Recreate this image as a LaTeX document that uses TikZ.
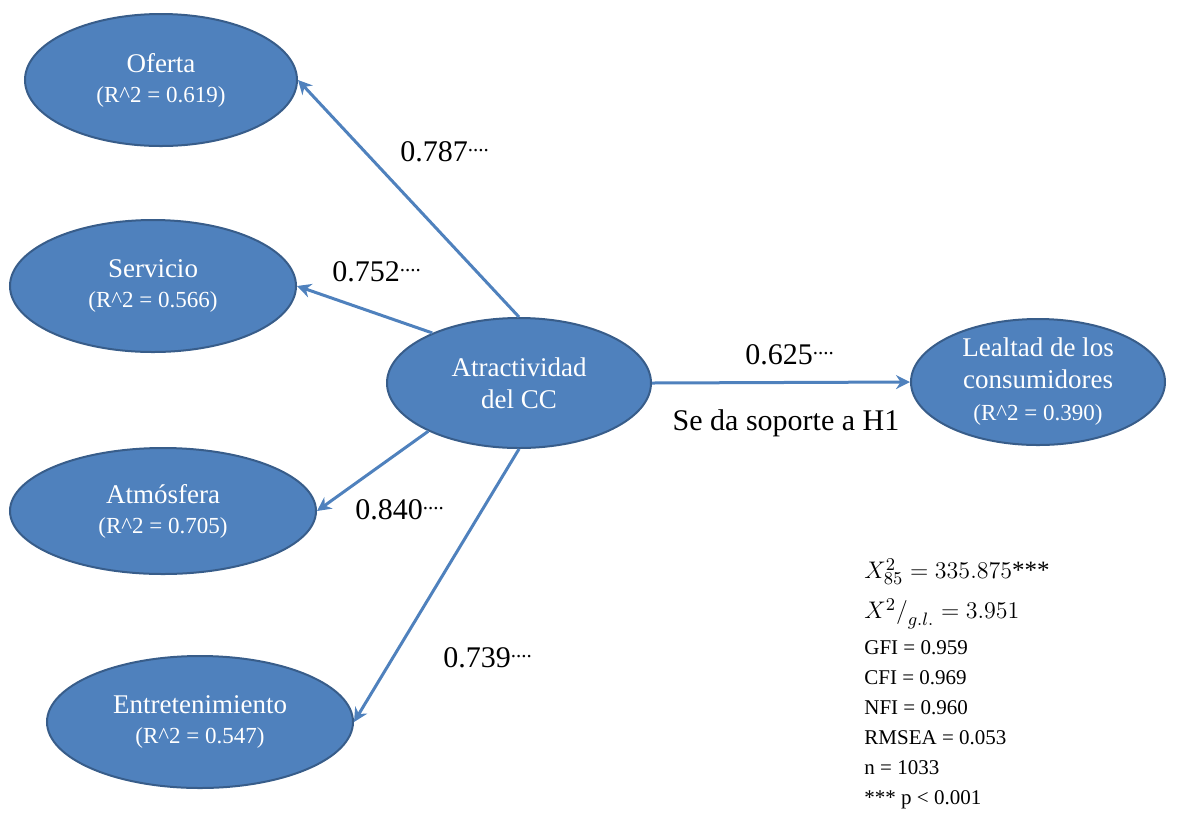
\documentclass[tikz,border=0pt]{standalone}
\usepackage{fontspec}
\setmainfont{Liberation Serif}
\usetikzlibrary{arrows.meta, shapes.geometric}
\definecolor{semBlue}{HTML}{4F81BD}
\definecolor{semEdge}{HTML}{385D8A}

\begin{document}
\begin{tikzpicture}[x=0.5pt, y=-0.5pt,
    lat/.style={ellipse, draw=semEdge, fill=semBlue, line width=1pt, text=white,
      align=center, inner sep=0pt, font=\fontsize{13.5}{16}\selectfont},
    arr/.style={-{Stealth[length=7pt, width=7pt]}, semBlue, line width=1.5pt},
    coef/.style={font=\fontsize{15}{18}\selectfont}]
    \useasboundingbox (0,0) rectangle (1190,816);
    % factores
    \node[lat, minimum width=136pt, minimum height=66pt] (of) at (161,80)
      {Oferta\\[-1pt]{\fontsize{11.5}{15}\selectfont(R\textasciicircum2 = 0.619)}};
    \node[lat, minimum width=143pt, minimum height=66pt] (sv) at (153,286)
      {Servicio\\[-1pt]{\fontsize{11.5}{15}\selectfont(R\textasciicircum2 = 0.566)}};
    \node[lat, minimum width=153pt, minimum height=63pt] (at) at (163,511)
      {Atmósfera\\[-1pt]{\fontsize{11.5}{15}\selectfont(R\textasciicircum2 = 0.705)}};
    \node[lat, minimum width=153pt, minimum height=66pt] (en) at (200,722)
      {Entretenimiento\\[-1pt]{\fontsize{11.5}{15}\selectfont(R\textasciicircum2 = 0.547)}};
    % constructo central y resultado
    \node[lat, minimum width=132pt, minimum height=65pt] (cc) at (519,383)
      {Atractividad\\del CC};
    \node[lat, minimum width=127pt, minimum height=63pt] (le) at (1038,382)
      {Lealtad de los\\consumidores\\{\fontsize{11.5}{15}\selectfont(R\textasciicircum2 = 0.390)}};
    \foreach \a/\b in {cc.north/of.east, cc.150/sv.east, cc.208/at.east, cc.south/en.east}
      \draw[arr] (\a) -- (\b);
    \draw[arr] (cc.east) -- (le.west);
    % cargas
    \node[coef] (c1) at (445,152) {0.787\textsuperscript{....}};
    \node[coef] (c2) at (377,272) {0.752\textsuperscript{....}};
    \node[coef] (c3) at (400,510) {0.840\textsuperscript{....}};
    \node[coef] (c4) at (488,658) {0.739\textsuperscript{....}};
    \node[coef] (c5) at (790,355) {0.625\textsuperscript{....}};
    \node[coef] (h1) at (786,423) {Se da soporte a H1};
    % ajuste
    \node[anchor=north west, align=left, inner sep=0pt, font=\fontsize{10.5}{15}\selectfont] (fit) at (864,558)
      {{\fontsize{12.5}{15}\selectfont$X^{2}_{85} = 335.875$***}\\[5pt]
       {\fontsize{12.5}{15}\selectfont$X^2\big/_{g.l.} = 3.951$}\\[3pt]
       GFI = 0.959\\CFI = 0.969\\NFI = 0.960\\RMSEA = 0.053\\n = 1033\\*** p < 0.001};
\end{tikzpicture}
\end{document}
